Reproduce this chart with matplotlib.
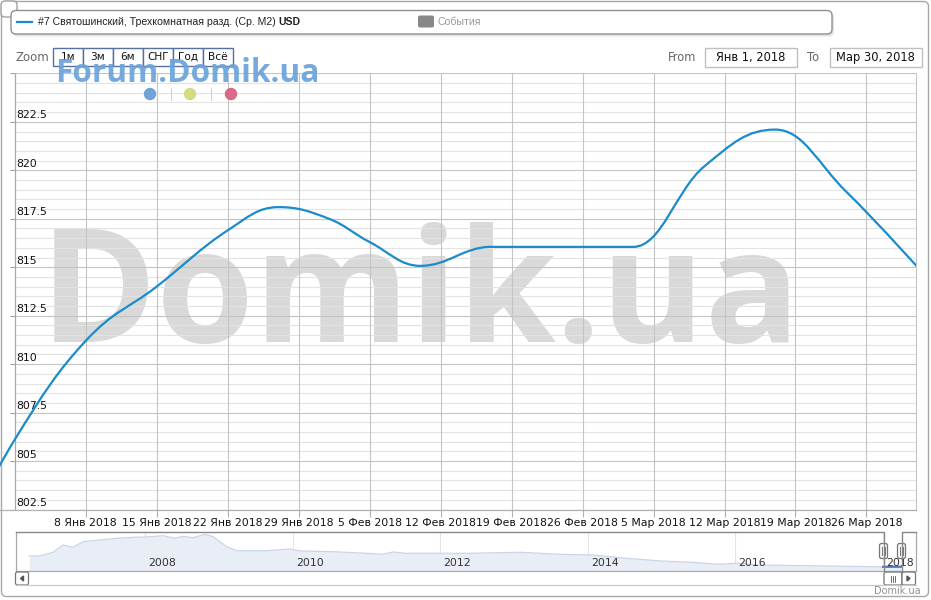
import matplotlib
matplotlib.use('Agg')
import matplotlib.pyplot as plt
import matplotlib.dates as mdates
import matplotlib.transforms as mtransforms
from matplotlib.path import Path
from matplotlib.patches import PathPatch, FancyBboxPatch, Rectangle, Circle
from datetime import datetime

plt.rcParams['font.family'] = ['DejaVu Sans']

# ---------------- data ----------------
series_name = '#7 Святошинский, Трехкомнатная разд. (Ср. M2) '
series_unit = 'USD'
dates = ['2017-12-25', '2018-01-01', '2018-01-08', '2018-01-15', '2018-01-22',
         '2018-01-27', '2018-02-01', '2018-02-05', '2018-02-10', '2018-02-17',
         '2018-03-03', '2018-03-10', '2018-03-17', '2018-03-24', '2018-04-01']
values = [799.3, 806.1, 811.2, 814.0, 816.9,
          818.1, 817.5, 816.3, 815.07, 816.05,
          816.05, 820.2, 822.1, 818.9, 814.45]

y_major = [802.5, 805, 807.5, 810, 812.5, 815, 817.5, 820, 822.5, 825]
x_tick_dates = ['2018-01-08', '2018-01-15', '2018-01-22', '2018-01-29', '2018-02-05',
                '2018-02-12', '2018-02-19', '2018-02-26', '2018-03-05', '2018-03-12',
                '2018-03-19', '2018-03-26']
month_names = {1: 'Янв', 2: 'Фев', 3: 'Мар'}
range_from = 'Янв 1, 2018'
range_to = 'Мар 30, 2018'
zoom_buttons = ['1м', '3м', '6м', 'СНГ', 'Год', 'Всё']

nav_dates = ['2006-06-05', '2006-07-28', '2006-10-01', '2006-11-20', '2007-01-08',
             '2007-02-28', '2007-05-22', '2007-08-11', '2007-10-31', '2008-01-08',
             '2008-03-29', '2008-05-27', '2008-07-05', '2008-08-25', '2008-10-23',
             '2008-12-02', '2009-02-07', '2009-03-29', '2009-08-25', '2009-12-17',
             '2010-02-06', '2010-07-20', '2011-01-01', '2011-03-22', '2011-05-11',
             '2011-07-16', '2012-05-27', '2013-01-30', '2013-08-15', '2014-01-26',
             '2014-07-13', '2014-12-25', '2015-06-07', '2015-10-01', '2016-01-08',
             '2016-05-01', '2017-03-29', '2018-01-01', '2018-03-30']
nav_values = [1457, 1457, 1679, 2117, 1979,
              2315, 2417, 2519, 2579, 2597,
              2675, 2519, 2639, 2555, 2759,
              2615, 2015, 1775, 1775, 1877,
              1757, 1715, 1619, 1559, 1697,
              1619, 1619, 1679, 1559, 1517,
              1319, 1157, 1079, 959, 1019,
              917, 857, 806, 815]
nav_years = [2008, 2010, 2012, 2014, 2016, 2018]

# ---------------- helpers ----------------
W, H = 931, 600
fig = plt.figure(figsize=(W / 100, H / 100), dpi=100)
fig.patch.set_facecolor('white')


def rect(l, t, r, b):
    return [l / W, 1 - b / H, (r - l) / W, (b - t) / H]


def d2n(s):
    return mdates.date2num(datetime.strptime(s, '%Y-%m-%d'))


def fit_text(t, width_px):
    fig.canvas.draw()
    w = t.get_window_extent().width
    t.set_fontsize(t.get_fontsize() * width_px / w)


def hc_spline(xs, ys, smoothing=1.5):
    """Highcharts-style spline path through the points."""
    n = len(xs)
    denom = smoothing + 1
    lc = [None] * n
    rc = [None] * n
    for i in range(1, n - 1):
        x, y = xs[i], ys[i]
        lx, ly = xs[i - 1], ys[i - 1]
        nx, ny = xs[i + 1], ys[i + 1]
        lcx = (smoothing * x + lx) / denom
        lcy = (smoothing * y + ly) / denom
        rcx = (smoothing * x + nx) / denom
        rcy = (smoothing * y + ny) / denom
        if rcx != lcx:
            corr = ((rcy - lcy) * (rcx - x)) / (rcx - lcx) + y - rcy
            lcy += corr
            rcy += corr
            if lcy > ly and lcy > y:
                lcy = max(ly, y); rcy = 2 * y - lcy
            elif lcy < ly and lcy < y:
                lcy = min(ly, y); rcy = 2 * y - lcy
            if rcy > ny and rcy > y:
                rcy = max(ny, y); lcy = 2 * y - rcy
            elif rcy < ny and rcy < y:
                rcy = min(ny, y); lcy = 2 * y - rcy
        lc[i] = (lcx, lcy)
        rc[i] = (rcx, rcy)
    verts = [(xs[0], ys[0])]
    codes = [Path.MOVETO]
    for i in range(1, n):
        c1 = rc[i - 1] if rc[i - 1] is not None else (xs[i - 1], ys[i - 1])
        c2 = lc[i] if lc[i] is not None else (xs[i], ys[i])
        verts += [c1, c2, (xs[i], ys[i])]
        codes += [Path.CURVE4] * 3
    return Path(verts, codes)


# ---------------- layers ----------------
bg = fig.add_axes([0, 0, 1, 1], zorder=0)
bg.set_xlim(0, W); bg.set_ylim(H, 0); bg.axis('off')

ax = fig.add_axes(rect(0, 73.4, 916, 509.5), zorder=5)
ax.set_facecolor('none')

nav = fig.add_axes(rect(16, 531.7, 916, 571), zorder=5)

fg = fig.add_axes([0, 0, 1, 1], zorder=10)
fg.set_xlim(0, W); fg.set_ylim(H, 0); fg.axis('off')

# ---------------- background chrome ----------------
bg.add_patch(FancyBboxPatch((1.5, 1.5), 927, 595, boxstyle='round,pad=0,rounding_size=5',
                            fc='white', ec='#a8a8a8', lw=1))
bg.add_patch(FancyBboxPatch((1, 1), 16, 16, boxstyle='round,pad=0,rounding_size=4',
                            fc='white', ec='#a0a0a0', lw=1))
# legend shadow + box
bg.add_patch(FancyBboxPatch((13, 12.5), 821, 24, boxstyle='round,pad=0,rounding_size=5',
                            fc='#e4e4e4', ec='none'))
bg.add_patch(FancyBboxPatch((11, 10.5), 821, 23.5, boxstyle='round,pad=0,rounding_size=5',
                            fc='white', ec='#909090', lw=1))
bg.plot([17, 32], [21.5, 21.5], color='#1a8bcb', lw=1.6)
t1 = bg.text(38, 22, series_name, fontsize=7, family='Liberation Sans',
             va='center', ha='left', color='#222222')
fit_text(t1, 239)
fig.canvas.draw()
x_end = t1.get_window_extent().x1
bg.text(x_end, 22, series_unit, fontsize=t1.get_fontsize(), family='Liberation Sans',
        weight='bold', va='center', ha='left', color='#222222',
        transform=mtransforms.blended_transform_factory(mtransforms.IdentityTransform(),
                                                        bg.transData))
bg.add_patch(FancyBboxPatch((418, 15.5), 16, 12, boxstyle='round,pad=0,rounding_size=2',
                            fc='#888888', ec='none'))
bg.text(438, 22, 'События', fontsize=t1.get_fontsize(), family='Liberation Sans',
        va='center', ha='left', color='#999999')

# zoom row
bg.text(16, 57.5, 'Zoom', fontsize=8.5, color='#666666', va='center', ha='left')
bx = 53
for lab in zoom_buttons:
    bg.add_patch(Rectangle((bx, 47.5), 30, 18, fc='white', ec='#5670a0', lw=1))
    bg.text(bx + 15, 57, lab, fontsize=7.6, color='#111111', va='center', ha='center')
    bx += 30
bg.text(668, 57.5, 'From', fontsize=8.3, color='#666666', va='center', ha='left')
bg.add_patch(Rectangle((704.5, 47.5), 92, 19, fc='white', ec='#c0c0c0', lw=1))
bg.text(750.5, 57, range_from, fontsize=8.3, color='#111111', va='center', ha='center')
bg.text(807, 57.5, 'To', fontsize=8.3, color='#666666', va='center', ha='left')
bg.add_patch(Rectangle((829.5, 47.5), 92, 19, fc='white', ec='#c0c0c0', lw=1))
bg.text(875.5, 57, range_to, fontsize=8.3, color='#111111', va='center', ha='center')

# big watermark
wm = bg.text(40, 342, 'Domik.ua', fontsize=110, family='Open Sans', weight='bold',
             color='#d9d9d9', ha='left', va='baseline')
fit_text(wm, 761)

# ---------------- main plot ----------------
xs = [d2n(s) for s in dates]
x0 = d2n('2018-01-01')
px_per_day = 10.14
xmin = x0 - 14.7 / px_per_day
xmax = x0 + (916 - 14.7) / px_per_day
ax.set_xlim(xmin, xmax)
ax.set_ylim(y_major[0], y_major[-1])

minor = [y_major[0] + 0.5 * k for k in range(int((y_major[-1] - y_major[0]) / 0.5) + 1)]
for v in minor:
    if all(abs(v - m) > 1e-6 for m in y_major):
        ax.hlines(v, x0, xmax, color='#e3e3e3', lw=0.8, zorder=1)
for v in y_major:
    ax.hlines(v, x0, xmax, color='#c4c4c4', lw=0.8, zorder=1.5)
    ax.hlines(v, x0 - 5 / px_per_day, x0, color='#a0a0a0', lw=0.8, zorder=1.5)
xt = [d2n(s) for s in x_tick_dates]
ax.vlines(xt, y_major[0], y_major[-1], color='#c4c4c4', lw=0.8, zorder=1.5)
ax.vlines([x0], y_major[0], y_major[-1], color='#a8a8a8', lw=0.9, zorder=1.6)

lab_tr = mtransforms.offset_copy(ax.transData, fig=fig, x=2, y=1.5, units='dots')
for v in y_major[:-1]:
    ax.text(x0, v, f'{v:g}', transform=lab_tr, fontsize=7.8, color='#111111',
            ha='left', va='bottom', zorder=2)

path = hc_spline(xs, values)
ax.add_patch(PathPatch(path, fc='none', ec='#1a8bcb', lw=1.6, zorder=3,
                       capstyle='round', joinstyle='round'))

ax.set_yticks([])
ax.set_xticks(xt)
ax.set_xticklabels([f'{datetime.strptime(s, "%Y-%m-%d").day} '
                    f'{month_names[datetime.strptime(s, "%Y-%m-%d").month]} '
                    f'{datetime.strptime(s, "%Y-%m-%d").year}' for s in x_tick_dates])
ax.tick_params(axis='x', length=5, width=0.8, color='#b0b0b0', labelsize=7.8,
               pad=1, labelcolor='#111111')
for s in ['left', 'top']:
    ax.spines[s].set_visible(False)
ax.spines['bottom'].set_color('#b0b0b0')
ax.spines['bottom'].set_linewidth(0.9)
ax.spines['right'].set_color('#c4c4c4')
ax.spines['right'].set_linewidth(0.8)

# ---------------- navigator ----------------
nx = [d2n(s) for s in nav_dates]
nav.set_xlim(d2n('2006-04-01'), d2n('2018-06-13'))
nav.set_ylim(557, 2915)
nav.fill_between(nx, nav_values, 557, color='#e9edf5', lw=0, zorder=1)
nav.plot(nx, nav_values, color='#cbd4e6', lw=0.9, zorder=2)
nav.plot(nx[-2:], nav_values[-2:], color='#4f7ab8', lw=1.6, zorder=3)
year_x = [d2n(f'{y}-01-01') for y in nav_years]
nav.vlines(year_x, 557, 2915, color='#e6e6e6', lw=0.8, zorder=0.5)
ytr = mtransforms.offset_copy(mtransforms.blended_transform_factory(nav.transData, nav.transAxes),
                              fig=fig, x=3, y=0, units='dots')
for yv, xv in zip(nav_years, year_x):
    nav.text(xv, 0.2, str(yv), transform=ytr, fontsize=7.8, color='#333333',
             ha='left', va='center', zorder=4)
nav.set_xticks([]); nav.set_yticks([])
nav.set_facecolor('none')
for s in ['left', 'right', 'bottom']:
    nav.spines[s].set_color('#a8a8a8')
    nav.spines[s].set_linewidth(0.9)
nav.spines['top'].set_visible(False)

# navigator outline around selection
fg.plot([16, 884, 884], [531.7, 531.7, 571], color='#888888', lw=1)
fg.plot([901.7, 901.7, 916], [571, 531.7, 531.7], color='#888888', lw=1)
for hx in (883.5, 901.5):
    fg.add_patch(FancyBboxPatch((hx - 4, 543.5), 8, 15, boxstyle='round,pad=0,rounding_size=2',
                                fc='#f8f8f8', ec='#777777', lw=0.9))
    fg.plot([hx - 1.2, hx - 1.2], [547, 555], color='#777777', lw=0.7)
    fg.plot([hx + 1.2, hx + 1.2], [547, 555], color='#777777', lw=0.7)

# scrollbar
fg.plot([16, 916], [585, 585], color='#c8c8c8', lw=0.9)
fg.add_patch(FancyBboxPatch((15.5, 572), 13, 13, boxstyle='round,pad=0,rounding_size=2',
                            fc='white', ec='#777777', lw=0.9))
fg.add_patch(plt.Polygon([[23.5, 576], [23.5, 581], [20.5, 578.5]], color='#555555'))
fg.add_patch(FancyBboxPatch((884, 572), 18, 13, boxstyle='round,pad=0,rounding_size=2',
                            fc='white', ec='#777777', lw=0.9))
for dx in (-2, 0, 2):
    fg.plot([893 + dx, 893 + dx], [575.5, 581.5], color='#555555', lw=0.6)
fg.add_patch(FancyBboxPatch((902, 572), 13.5, 13, boxstyle='round,pad=0,rounding_size=2',
                            fc='white', ec='#777777', lw=0.9))
fg.add_patch(plt.Polygon([[907, 576], [907, 581], [910, 578.5]], color='#555555'))

# credit
fg.text(921, 591, 'Domik.ua', fontsize=7, color='#909090', ha='right', va='center')

# forum watermark
fw = fg.text(55, 82, 'Forum.Domik.ua', fontsize=24, family='Open Sans', weight='bold',
             color='#6aa3da', alpha=0.92, ha='left', va='baseline')
fit_text(fw, 265)
for cx, col in [(150, '#6b9fd6'), (190, '#d2db7c'), (231, '#d9647f')]:
    fg.add_patch(Circle((cx, 94), 5.5, color=col, alpha=0.95))
for sx in (171, 211):
    fg.plot([sx, sx], [88, 100], color='#d0d0d0', lw=0.8)

fig.savefig('out.png', dpi=100)
